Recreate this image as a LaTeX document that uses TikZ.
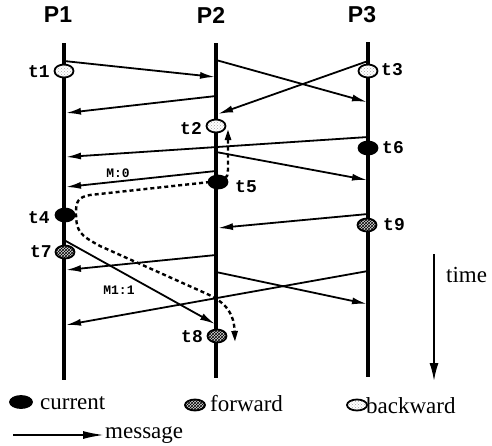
\documentclass[tikz,border=0pt]{standalone}
\usepackage{fontspec}
\setmainfont{Liberation Serif}
\newfontfamily\lblfont{Liberation Mono}
\newfontfamily\pfont{Liberation Sans}
\usetikzlibrary{arrows.meta,patterns,shapes.geometric}
\begin{document}
\begin{tikzpicture}[x=1pt,y=-1pt,
  proc/.style={line width=3.2pt},
  msg/.style={line width=1.8pt,-{Latex[length=15pt,width=7pt]}},
  dep/.style={line width=2.4pt,dash pattern=on 4pt off 3pt,-{Triangle[length=11pt,width=6pt]}},
  evt/.style={ellipse,minimum width=19pt,minimum height=13pt,inner sep=0pt,line width=1.8pt,draw},
  cur/.style={evt,fill=black},
  fwd/.style={evt,preaction={fill=gray!30},pattern=crosshatch},
  bwd/.style={evt,preaction={fill=white},pattern=crosshatch dots,pattern color=gray!70},
  tlbl/.style={font=\lblfont\bfseries\fontsize{18}{18}\selectfont,inner sep=0pt},
  mlbl/.style={font=\lblfont\bfseries\fontsize{13}{13}\selectfont,inner sep=0pt},
  plbl/.style={font=\pfont\bfseries\fontsize{23}{23}\selectfont,inner sep=0pt},
  leg/.style={font=\fontsize{23}{23}\selectfont,inner sep=0pt,anchor=base west}]
\useasboundingbox (0,0) rectangle (492,445);
% process labels
\node[plbl] (P1) at (58,15) {P1};
\node[plbl] (P2) at (211,15) {P2};
\node[plbl] (P3) at (362,15) {P3};
% process lines
\coordinate (p1t) at (64,43); \coordinate (p1b) at (64,380);
\coordinate (p2t) at (216,43); \coordinate (p2b) at (216,378);
\coordinate (p3t) at (368,42); \coordinate (p3b) at (368,377);
\draw[proc] (p1t) -- (p1b);
\draw[proc] (p2t) -- (p2b);
\draw[proc] (p3t) -- (p3b);
% message endpoints
\coordinate (a1) at (64,61);  \coordinate (b1) at (215,77);
\coordinate (a2) at (216,60); \coordinate (b2) at (367,102);
\coordinate (a3) at (216,96); \coordinate (b3) at (66,113);
\coordinate (a4) at (368,61); \coordinate (b4) at (218,114);
\coordinate (a5) at (368,137); \coordinate (b5) at (66,157);
\coordinate (a6) at (216,152); \coordinate (b6) at (367,180);
\coordinate (a7) at (216,171); \coordinate (b7) at (66,187);
\coordinate (a8) at (368,214); \coordinate (b8) at (218,228);
\coordinate (a9) at (64,240); \coordinate (b9) at (215,324);
\coordinate (a10) at (216,255); \coordinate (b10) at (66,270);
\coordinate (a11) at (216,272); \coordinate (b11) at (367,304);
\coordinate (a12) at (368,271); \coordinate (b12) at (66,325);
\draw[msg] (a1) -- (b1);
\draw[msg] (a2) -- (b2);
\draw[msg] (a3) -- (b3);
\draw[msg] (a4) -- (b4);
\draw[msg] (a5) -- (b5);
\draw[msg] (a6) -- (b6);
\draw[msg] (a7) -- (b7);
\draw[msg] (a8) -- (b8);
\draw[msg] (a9) -- (b9);
\draw[msg] (a10) -- (b10);
\draw[msg] (a11) -- (b11);
\draw[msg] (a12) -- (b12);
\node[mlbl] (M0) at (118,173) {M:0};
\node[mlbl] (M11) at (119,290) {M1:1};
% dependency paths
\coordinate (d1) at (228,129);
\coordinate (d2) at (235,342);
\draw[dep] (218,178) .. controls (228,178) .. (228,165) -- (d1);
\draw[dep] (210,182) -- (90,195) .. controls (78,197) and (76,202) .. (76,212)
  .. controls (76,232) and (80,235) .. (100,246) -- (205,293)
  .. controls (228,303) and (234,315) .. (d2);
% markers
\node[bwd] (t1) at (64,71) {};
\node[bwd] (t2) at (216,126) {};
\node[bwd] (t3) at (368,71) {};
\node[cur] (t4) at (65,215) {};
\node[cur] (t5) at (218,182) {};
\node[cur] (t6) at (368,148) {};
\node[fwd] (t7) at (65,252) {};
\node[fwd] (t8) at (217,336) {};
\node[fwd] (t9) at (367,225) {};
\node[tlbl] at (39,72) {t1};
\node[tlbl] at (191,129) {t2};
\node[tlbl] at (392,70) {t3};
\node[tlbl] at (39,218) {t4};
\node[tlbl] at (246,187) {t5};
\node[tlbl] at (393,148) {t6};
\node[tlbl] at (41,252) {t7};
\node[tlbl] at (192,337) {t8};
\node[tlbl] at (394,225) {t9};
% time arrow
\coordinate (ts) at (434,254); \coordinate (te) at (434,381);
\draw[line width=1.8pt,-{Latex[length=18pt,width=9pt]}] (ts) -- (te);
\node[leg] (time) at (446,282) {time};
% legend
\node[cur,minimum width=22pt,minimum height=12pt] (lc) at (21,402) {};
\node[leg] (lct) at (40,409) {current};
\node[fwd,minimum width=20pt,minimum height=11pt] (lf) at (195,405) {};
\node[leg] (lft) at (210,411) {forward};
\node[bwd,minimum width=20pt,minimum height=11pt] (lb) at (357,405) {};
\node[leg] (lbt) at (366,413) {backward};
\coordinate (lm1) at (13,435); \coordinate (lm2) at (104,435);
\draw[line width=1.8pt,-{Latex[length=21pt,width=8pt]}] (lm1) -- (lm2);
\node[leg] (lmt) at (105,438) {message};
\end{tikzpicture}
\end{document}
